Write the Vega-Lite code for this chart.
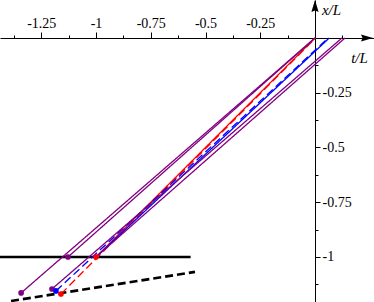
{
  "$schema": "https://vega.github.io/schema/vega-lite/v6.json",
  "width": 374,
  "height": 302,
  "padding": 0,
  "autosize": {"type": "none"},
  "background": "white",
  "config": {
    "view": {"stroke": null},
    "font": "Liberation Serif",
    "axis": {"labelFont": "Liberation Serif", "titleFont": "Liberation Serif"}
  },
  "resolve": {"axis": {"x": "independent", "y": "independent"}},
  "datasets": {
    "rays": [
      {"ray": "r1", "hue": "red", "style": "solid", "t": 0, "x": 0},
      {"ray": "r1", "hue": "red", "style": "solid", "t": -1, "x": -1},
      {"ray": "r2", "hue": "red", "style": "dotted", "t": 0.003, "x": 0},
      {"ray": "r2", "hue": "red", "style": "dotted", "t": -1.16, "x": -1.169},
      {"ray": "b1", "hue": "blue", "style": "solid", "t": 0.065, "x": 0},
      {"ray": "b1", "hue": "blue", "style": "solid", "t": -1, "x": -1},
      {"ray": "b2", "hue": "blue", "style": "dotted", "t": 0.06, "x": 0},
      {"ray": "b2", "hue": "blue", "style": "dotted", "t": -1.183, "x": -1.155},
      {"ray": "p1", "hue": "purple", "style": "solid", "t": 0.137, "x": 0},
      {"ray": "p1", "hue": "purple", "style": "solid", "t": -1, "x": -1},
      {"ray": "p2", "hue": "purple", "style": "dashed", "t": 0.123, "x": 0},
      {"ray": "p2", "hue": "purple", "style": "dashed", "t": -1.201, "x": -1.146},
      {"ray": "p3", "hue": "purple", "style": "solid", "t": 0, "x": 0},
      {"ray": "p3", "hue": "purple", "style": "solid", "t": -1.128, "x": -1},
      {"ray": "p4", "hue": "purple", "style": "dashed", "t": 0, "x": 0},
      {"ray": "p4", "hue": "purple", "style": "dashed", "t": -1.342, "x": -1.164}
    ],
    "walls": [
      {"wall": "static", "t": -1.44, "x": -1},
      {"wall": "static", "t": -0.568, "x": -1},
      {"wall": "moving", "t": -1.388, "x": -1.201},
      {"wall": "moving", "t": -0.548, "x": -1.068}
    ],
    "dots": [
      {"hue": "purple", "t": -1.342, "x": -1.164},
      {"hue": "purple", "t": -1.128, "x": -1},
      {"hue": "purple", "t": -1.201, "x": -1.146},
      {"hue": "blue", "t": -1.183, "x": -1.155},
      {"hue": "red", "t": -1.16, "x": -1.169},
      {"hue": "red", "t": -1, "x": -1}
    ],
    "arrows": [
      {"axis": "t", "t": 0.2375, "x": 0},
      {"axis": "x", "t": 0, "x": 0.1465}
    ]
  },
  "layer": [
    {
      "data": {"name": "walls"},
      "mark": {"type": "line", "color": "black", "strokeWidth": 2.6},
      "encoding": {
        "x": {
          "field": "t", "type": "quantitative",
          "scale": {"domain": [-1.4384, 0.2694], "nice": false, "zero": false},
          "axis": {
            "orient": "top", "offset": -38, "grid": false,
            "title": "t/L", "titleFont": "Liberation Serif", "titleFontStyle": "italic", "titleFontWeight": "normal", "titleFontSize": 15,
            "titleX": 359, "titleY": 19, "titleAlign": "center", "titleBaseline": "middle", "titleAngle": 0,
            "values": [-1.25, -1, -0.75, -0.5, -0.25],
            "labelExpr": "'' + datum.value",
            "labelFont": "Liberation Serif", "labelFontSize": 14, "labelColor": "black",
            "labelPadding": 2, "labelFlush": false, "labelOverlap": false,
            "domainColor": "black", "domainWidth": 1,
            "tickColor": "black", "tickWidth": 1, "tickSize": 6
          }
        },
        "y": {
          "field": "x", "type": "quantitative",
          "scale": {"domain": [-1.2055, 0.1735], "nice": false, "zero": false},
          "axis": {
            "orient": "right", "offset": -59, "grid": false,
            "title": "x/L", "titleFont": "Liberation Serif", "titleFontStyle": "italic", "titleFontWeight": "normal", "titleFontSize": 15,
            "titleX": 16, "titleY": 9, "titleAlign": "center", "titleBaseline": "middle", "titleAngle": 0,
            "values": [-1, -0.75, -0.5, -0.25],
            "labelExpr": "'' + datum.value",
            "labelFont": "Liberation Serif", "labelFontSize": 14, "labelColor": "black",
            "labelAlign": "left", "labelBaseline": "middle", "labelPadding": 2, "labelFlush": false, "labelOverlap": false,
            "domainColor": "black", "domainWidth": 1,
            "tickColor": "black", "tickWidth": 1, "tickSize": 5
          }
        },
        "detail": {"field": "wall", "type": "nominal"},
        "strokeDash": {"field": "wall", "type": "nominal", "scale": {"domain": ["static", "moving"], "range": [[1, 0], [8, 4]]}, "legend": null}
      }
    },
    {
      "data": {"name": "rays"},
      "mark": {"type": "line", "strokeWidth": 1.3},
      "encoding": {
        "x": {
          "field": "t", "type": "quantitative",
          "axis": {
            "orient": "top", "offset": -38, "grid": false, "title": null, "labels": false, "domain": false,
            "values": [-1.375, -1.125, -0.875, -0.625, -0.375, -0.125, 0.125],
            "tickColor": "black", "tickWidth": 1, "tickSize": 3
          }
        },
        "y": {
          "field": "x", "type": "quantitative",
          "axis": {
            "orient": "right", "offset": -59, "grid": false, "title": null, "labels": false, "domain": false,
            "values": [-1.125, -0.875, -0.625, -0.375, -0.125],
            "tickColor": "black", "tickWidth": 1, "tickSize": 3
          }
        },
        "detail": {"field": "ray", "type": "nominal"},
        "color": {"field": "hue", "type": "nominal", "scale": {"domain": ["red", "blue", "purple"], "range": ["#ff0000", "#0000ff", "#800080"]}, "legend": null},
        "strokeDash": {"field": "style", "type": "nominal", "scale": {"domain": ["solid", "dotted", "dashed"], "range": [[1, 0], [2, 2.5], [4, 3]]}, "legend": null}
      }
    },
    {
      "data": {"name": "dots"},
      "mark": {"type": "point", "filled": true, "opacity": 1, "size": 32},
      "encoding": {
        "x": {"field": "t", "type": "quantitative", "axis": null},
        "y": {"field": "x", "type": "quantitative", "axis": null},
        "color": {"field": "hue", "type": "nominal", "legend": null}
      }
    },
    {
      "data": {"name": "arrows"},
      "transform": [{"filter": "datum.axis == 't'"}],
      "mark": {"type": "point", "shape": "M-1,-0.6L1,0L-1,0.6L-0.75,0Z", "filled": true, "color": "black", "opacity": 1, "size": 144},
      "encoding": {
        "x": {"field": "t", "type": "quantitative", "axis": null},
        "y": {"field": "x", "type": "quantitative", "axis": null}
      }
    },
    {
      "data": {"name": "arrows"},
      "transform": [{"filter": "datum.axis == 'x'"}],
      "mark": {"type": "point", "shape": "M-0.6,1L0,-1L0.6,1L0,0.75Z", "filled": true, "color": "black", "opacity": 1, "size": 144},
      "encoding": {
        "x": {"field": "t", "type": "quantitative", "axis": null},
        "y": {"field": "x", "type": "quantitative", "axis": null}
      }
    }
  ]
}
